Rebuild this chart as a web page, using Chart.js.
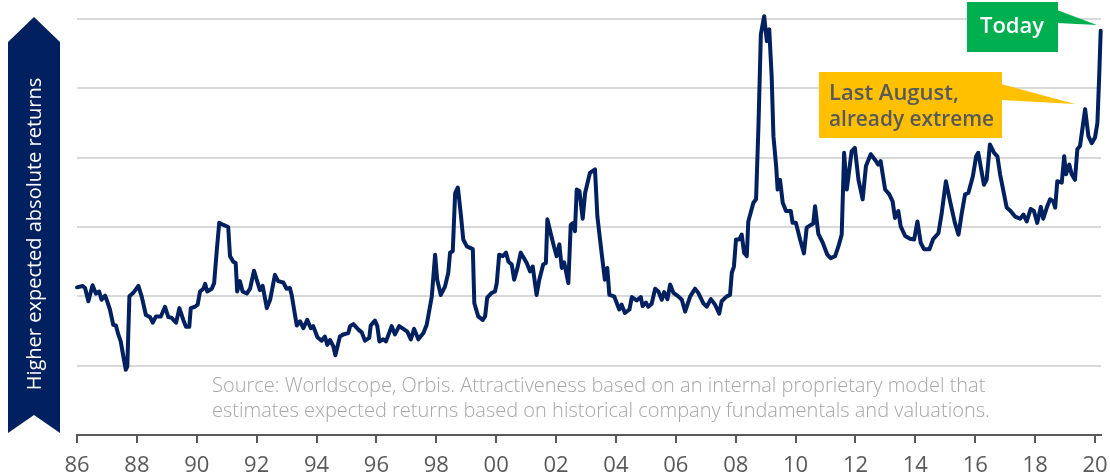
<!DOCTYPE html>
<html>
<head>
<meta charset="utf-8">
<script src="https://cdn.jsdelivr.net/npm/chart.js@4.4.1/dist/chart.umd.min.js"></script>
<style>
  html, body { margin: 0; padding: 0; background: #fff; }
  #wrap { position: relative; width: 1110px; height: 474px; }
</style>
</head>
<body>
<div id="wrap"><canvas id="attractivenessChart"></canvas></div>
<script>
// decimal years
const dates = [
  1986.00,1986.19,1986.27,1986.38,1986.52,1986.63,1986.74,1986.82,1986.94,1986.99,
  1987.10,1987.21,1987.30,1987.38,1987.46,1987.55,1987.63,1987.68,1987.75,1987.88,
  1988.05,1988.16,1988.30,1988.44,1988.53,1988.64,1988.80,1988.94,1989.05,1989.16,
  1989.31,1989.42,1989.55,1989.64,1989.75,1989.80,1989.94,1990.03,1990.11,1990.22,
  1990.28,1990.35,1990.50,1990.58,1990.67,1990.75,1990.89,1991.05,1991.11,1991.22,
  1991.30,1991.35,1991.44,1991.53,1991.67,1991.78,1991.91,1992.00,1992.11,1992.20,
  1992.34,1992.45,1992.61,1992.72,1992.89,1993.00,1993.11,1993.17,1993.25,1993.34,
  1993.45,1993.56,1993.69,1993.81,1993.89,1994.03,1994.17,1994.28,1994.36,1994.45,
  1994.56,1994.63,1994.78,
  1994.89,1995.06,1995.12,1995.23,1995.40,1995.51,1995.62,1995.76,1995.81,1995.95,
  1996.03,1996.10,1996.23,1996.32,1996.51,1996.62,1996.76,1996.90,1997.03,1997.15,
  1997.26,1997.40,1997.57,1997.68,1997.85,1997.96,1998.03,1998.15,1998.29,1998.40,
  1998.46,1998.55,1998.63,1998.72,1998.82,1998.90,1999.02,1999.22,1999.27,1999.40,
  1999.55,1999.63,1999.70,1999.85,1999.96,2000.02,2000.10,2000.22,2000.33,2000.41,
  2000.52,2000.60,2000.71,2000.82,2000.93,2001.02,2001.13,2001.22,2001.35,2001.44,
  2001.57,2001.66,2001.71,2001.82,2001.93,2002.02,2002.11,2002.19,2002.27,2002.41,
  2002.49,2002.58,2002.63,2002.69,2002.78,2002.89,2002.97,2003.13,2003.30,
  2003.38,2003.52,2003.63,2003.71,2003.78,2003.94,2004.11,2004.19,2004.30,2004.45,
  2004.53,2004.69,2004.83,2004.89,2005.00,2005.08,2005.19,2005.31,2005.42,2005.53,
  2005.61,2005.72,2005.81,2005.92,2006.08,2006.20,2006.31,2006.48,2006.64,2006.75,
  2006.92,2007.03,2007.17,2007.31,2007.45,2007.53,2007.70,2007.81,2007.87,2007.94,
  2008.01,2008.12,2008.20,2008.28,2008.37,2008.42,2008.59,2008.68,2008.76,2008.84,
  2008.95,2009.04,2009.12,2009.20,2009.26,2009.35,2009.40,2009.48,2009.57,2009.68,
  2009.84,2009.90,2010.01,2010.15,2010.28,2010.37,2010.51,2010.59,2010.65,2010.76,
  2010.91,2011.06,2011.17,2011.32,2011.43,2011.54,
  2011.62,2011.71,2011.87,2011.98,2012.10,2012.24,2012.35,2012.51,2012.65,2012.76,
  2012.84,2012.99,2013.13,2013.24,2013.32,2013.43,2013.51,2013.66,2013.82,2013.96,
  2014.07,2014.18,2014.29,2014.47,2014.60,2014.77,2014.88,2015.02,2015.16,2015.32,
  2015.44,2015.55,2015.66,2015.77,2015.92,2016.03,2016.10,2016.22,2016.29,2016.38,
  2016.49,2016.63,2016.74,2016.83,2016.94,2017.05,2017.18,2017.33,2017.50,2017.61,
  2017.72,2017.85,2017.96,2018.07,2018.19,2018.27,2018.39,2018.50,2018.61,2018.67,
  2018.74,2018.89,2018.97,2019.03,2019.14,2019.22,2019.33,2019.41,2019.50,2019.67,
  2019.78,2019.89,2020.00,2020.08,2020.14,2020.19
];

// attractiveness, in gridline units (0 = axis, 6 = top line)
const attractiveness = [
  2.13,2.15,2.12,1.93,2.16,2.04,2.07,1.95,2.01,1.95,
  1.81,1.59,1.58,1.45,1.35,1.13,0.94,0.99,2.00,2.05,
  2.15,2.00,1.73,1.70,1.62,1.71,1.71,1.85,1.70,1.69,
  1.62,1.83,1.66,1.56,1.56,1.83,1.85,1.88,2.07,2.11,
  2.18,2.07,2.11,2.19,2.67,3.06,3.03,3.00,2.58,2.50,
  2.48,2.07,2.22,2.07,2.04,2.11,2.37,2.24,2.09,2.15,
  1.83,1.95,2.31,2.22,2.20,2.11,2.12,2.02,1.81,1.58,
  1.64,1.54,1.66,1.54,1.57,1.41,1.36,1.42,1.30,1.37,
  1.28,1.15,1.42,
  1.45,1.47,1.57,1.60,1.52,1.48,1.36,1.40,1.58,1.65,
  1.57,1.35,1.38,1.35,1.57,1.45,1.57,1.53,1.49,1.38,
  1.53,1.38,1.47,1.59,2.00,2.60,2.24,2.02,2.14,2.34,
  2.63,2.65,3.49,3.57,3.18,2.82,2.72,2.68,1.90,1.71,
  1.66,1.71,1.98,2.05,2.07,2.19,2.60,2.58,2.63,2.50,
  2.46,2.24,2.41,2.63,2.55,2.48,2.36,2.43,2.02,2.24,
  2.46,2.48,3.11,2.91,2.72,2.58,2.75,2.41,2.49,2.19,
  3.03,3.06,2.94,3.54,3.52,3.12,3.49,3.78,3.83,
  3.15,2.63,2.24,2.41,2.02,2.00,1.81,1.88,1.76,1.81,
  1.99,1.94,1.99,1.86,1.91,1.85,1.89,2.11,2.07,1.95,
  2.06,1.96,2.17,2.05,2.00,1.95,1.78,2.00,2.11,2.05,
  1.90,1.85,1.96,1.88,1.75,1.93,2.00,2.02,2.34,2.43,
  2.82,2.82,2.89,2.63,2.58,3.08,3.35,3.40,4.46,5.78,
  6.04,5.68,5.85,5.18,4.31,3.88,3.54,3.68,3.35,3.23,
  3.23,3.06,3.06,2.82,2.62,2.99,3.03,3.05,3.30,2.90,
  2.77,2.60,2.55,2.58,2.72,2.89,
  4.07,3.54,4.09,4.14,3.68,3.40,3.88,4.05,3.97,3.90,
  3.95,3.54,3.47,3.37,3.13,3.23,3.01,2.87,2.83,2.82,
  3.08,2.77,2.68,2.68,2.83,2.91,3.20,3.66,3.37,3.06,
  2.89,3.20,3.47,3.49,3.73,4.02,4.07,3.78,3.61,3.68,
  4.19,4.07,4.02,3.76,3.52,3.28,3.23,3.15,3.12,3.18,
  3.08,3.26,3.23,3.06,3.29,3.12,3.28,3.40,3.37,3.28,
  3.66,3.64,4.02,3.76,3.90,3.76,3.68,4.12,4.17,4.70,
  4.31,4.21,4.29,4.50,5.18,5.83
];

const tickYears = [1986,1988,1990,1992,1994,1996,1998,2000,2002,2004,2006,2008,2010,2012,2014,2016,2018,2020];

const arrowLabel = "Higher expected absolute returns";
const sourceLines = [
  "Source: Worldscope, Orbis. Attractiveness based on an internal proprietary model that",
  "estimates expected returns based on historical company fundamentals and valuations."
];
const todayLabel = "Today";
const augustLines = ["Last August,", "already extreme"];

const NAVY = "#002060";
const FONT = "'Open Sans', 'DejaVu Sans', sans-serif";

function fillPoly(ctx, pts, color) {
    ctx.beginPath();
    ctx.moveTo(pts[0][0], pts[0][1]);
    for (let i = 1; i < pts.length; i++) ctx.lineTo(pts[i][0], pts[i][1]);
    ctx.closePath();
    ctx.fillStyle = color;
    ctx.fill();
}

const annotations = {
    id: "annotations",
    beforeDraw(chart) {
        const ctx = chart.ctx;
        ctx.save();
        // left arrow with rotated label
        fillPoly(ctx, [[8, 42], [34, 17], [60, 42], [60, 433], [34, 415], [8, 433]], NAVY);
        ctx.translate(34, 234);
        ctx.rotate(-Math.PI / 2);
        ctx.font = "20px " + FONT;
        ctx.fillStyle = "#ffffff";
        ctx.textAlign = "center";
        ctx.textBaseline = "middle";
        ctx.fillText(arrowLabel, 0, 1, 318);
        ctx.restore();

        // source note
        ctx.save();
        ctx.font = "300 20px " + FONT;
        ctx.fillStyle = "#a6a6a6";
        ctx.textAlign = "left";
        ctx.textBaseline = "alphabetic";
        ctx.fillText(sourceLines[0], 212, 392, 818);
        ctx.fillText(sourceLines[1], 212, 417, 818);
        ctx.restore();
    },
    afterDraw(chart) {
        const ctx = chart.ctx;
        ctx.save();
        // "Today" callout
        fillPoly(ctx, [[1057, 10], [1097, 25], [1057, 23]], "#00b050");
        ctx.fillStyle = "#00b050";
        ctx.fillRect(967, 2, 91, 50);
        ctx.font = "600 22px " + FONT;
        ctx.fillStyle = "#ffffff";
        ctx.textAlign = "center";
        ctx.textBaseline = "middle";
        ctx.fillText(todayLabel, 1012, 27);

        // "Last August" callout
        fillPoly(ctx, [[1001, 84], [1075, 104], [1001, 100]], "#ffc000");
        ctx.fillStyle = "#ffc000";
        ctx.fillRect(819, 72, 183, 66);
        ctx.font = "600 22px " + FONT;
        ctx.fillStyle = "#595959";
        ctx.textAlign = "left";
        ctx.textBaseline = "alphabetic";
        ctx.fillText(augustLines[0], 829, 100, 165);
        ctx.fillText(augustLines[1], 829, 126, 165);
        ctx.restore();
    }
};

const ctx = document.getElementById("attractivenessChart");
new Chart(ctx, {
    type: "line",
    data: {
        datasets: [{
            data: dates.map((d, i) => ({ x: d, y: attractiveness[i] })),
            borderColor: NAVY,
            borderWidth: 4,
            pointRadius: 0,
            tension: 0,
            clip: false,
            borderJoinStyle: "round",
            borderCapStyle: "round"
        }]
    },
    options: {
        responsive: true,
        maintainAspectRatio: false,
        animation: false,
        layout: { padding: { left: 77, right: 9, top: 19, bottom: 0 } },
        plugins: {
            legend: { display: false },
            tooltip: { enabled: false }
        },
        scales: {
            x: {
                type: "linear",
                min: 1986,
                max: 2020.2,
                afterBuildTicks: scale => { scale.ticks = tickYears.map(v => ({ value: v })); },
                // fixed axis band so the plot area matches the reference frame
                afterFit: scale => {
                    scale.height = 39;
                    scale.paddingLeft = 0;
                    scale.paddingRight = 0;
                },
                ticks: {
                    callback: v => String(v).slice(2),
                    color: "#595959",
                    font: { family: FONT, size: 22, lineHeight: 1 },
                    padding: 12,
                    maxRotation: 0,
                    autoSkip: false
                },
                grid: { drawOnChartArea: false, drawTicks: true, tickLength: 8, color: "#595959", lineWidth: 2 },
                border: { display: true, color: "#595959", width: 2 }
            },
            y: {
                min: 0,
                max: 6,
                ticks: { display: false, stepSize: 1 },
                grid: {
                    drawTicks: false,
                    lineWidth: 2,
                    color: c => c.tick.value === 0 ? "rgba(0,0,0,0)" : "#d9d9d9"
                },
                border: { display: false }
            }
        }
    },
    plugins: [annotations]
});
</script>
</body>
</html>
